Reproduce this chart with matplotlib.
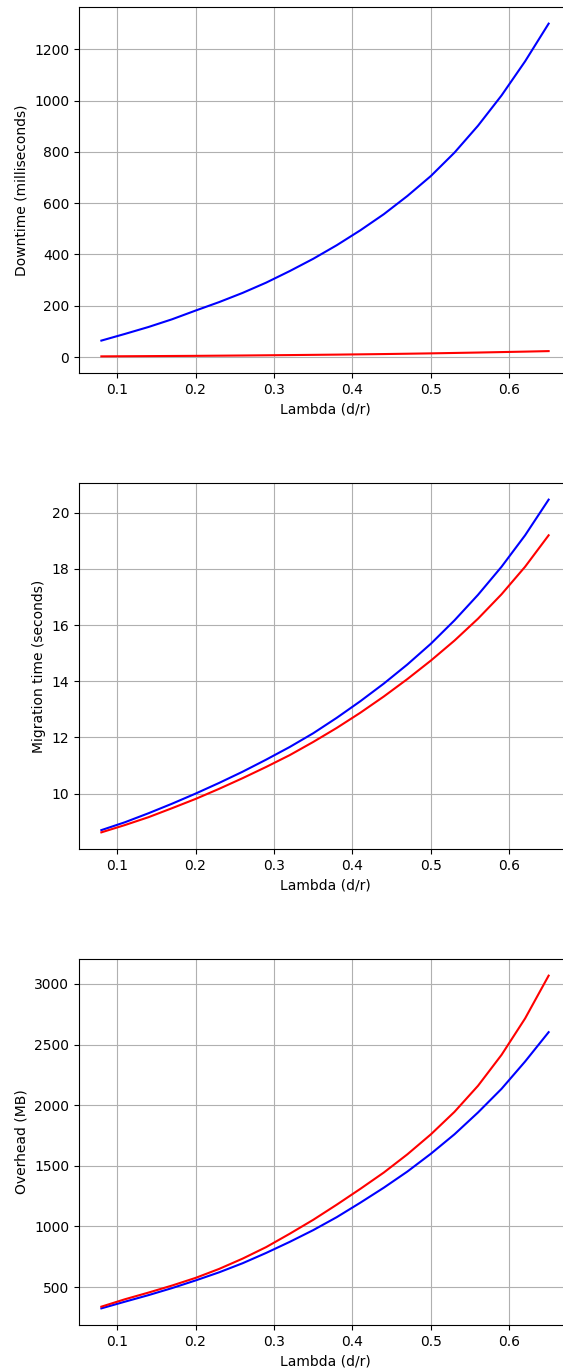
import matplotlib
matplotlib.use("Agg")
import matplotlib.pyplot as plt

# Lambda (d/r) sample points
lam = [0.08, 0.11, 0.14, 0.17, 0.20, 0.23, 0.26, 0.29, 0.32, 0.35,
       0.38, 0.41, 0.44, 0.47, 0.50, 0.53, 0.56, 0.59, 0.62, 0.65]

# Downtime (ms)
downtime_blue = [64, 90, 117, 147, 181, 214, 250, 290, 335, 383,
                 436, 494, 557, 628, 706, 797, 902, 1020, 1153, 1300]
downtime_red = [2.5, 3.0, 3.5, 4.0, 4.5, 5.2, 5.9, 6.7, 7.5, 8.4,
                9.3, 10.4, 11.5, 12.8, 14.2, 15.8, 17.4, 19.2, 21.0, 23.0]

# Migration time (s)
migration_blue = [8.70, 8.98, 9.30, 9.64, 10.00, 10.38, 10.78, 11.21, 11.66, 12.15,
                  12.70, 13.29, 13.92, 14.60, 15.34, 16.17, 17.08, 18.08, 19.20, 20.47]
migration_red = [8.62, 8.88, 9.16, 9.48, 9.81, 10.17, 10.55, 10.95, 11.37, 11.84,
                 12.34, 12.88, 13.46, 14.08, 14.74, 15.45, 16.23, 17.10, 18.08, 19.20]

# Overhead (MB)
overhead_blue = [325, 380, 434, 492, 555, 622, 697, 782, 873, 970,
                 1077, 1196, 1320, 1453, 1600, 1760, 1940, 2135, 2360, 2602]
overhead_red = [339, 400, 455, 513, 576, 650, 735, 830, 940, 1055,
                1180, 1310, 1445, 1595, 1760, 1945, 2160, 2415, 2715, 3068]

panels = [
    ("Downtime (milliseconds)", downtime_blue, downtime_red),
    ("Migration time (seconds)", migration_blue, migration_red),
    ("Overhead (MB)", overhead_blue, overhead_red),
]

W, H = 563, 1372
fig = plt.figure(figsize=(W / 100, H / 100), dpi=100)

left_px, right_px = 79, 571
tops = [7, 483, 959]
ax_h = 366

for (ylabel, yb, yr), top in zip(panels, tops):
    ax = fig.add_axes([left_px / W, 1 - (top + ax_h) / H,
                       (right_px - left_px) / W, ax_h / H])
    ax.plot(lam, yb, color="blue", linewidth=1.5)
    ax.plot(lam, yr, color="red", linewidth=1.5)
    ax.grid(True)
    ax.set_xlabel("Lambda (d/r)")
    ax.set_ylabel(ylabel)

fig.savefig("out.png", dpi=100)
